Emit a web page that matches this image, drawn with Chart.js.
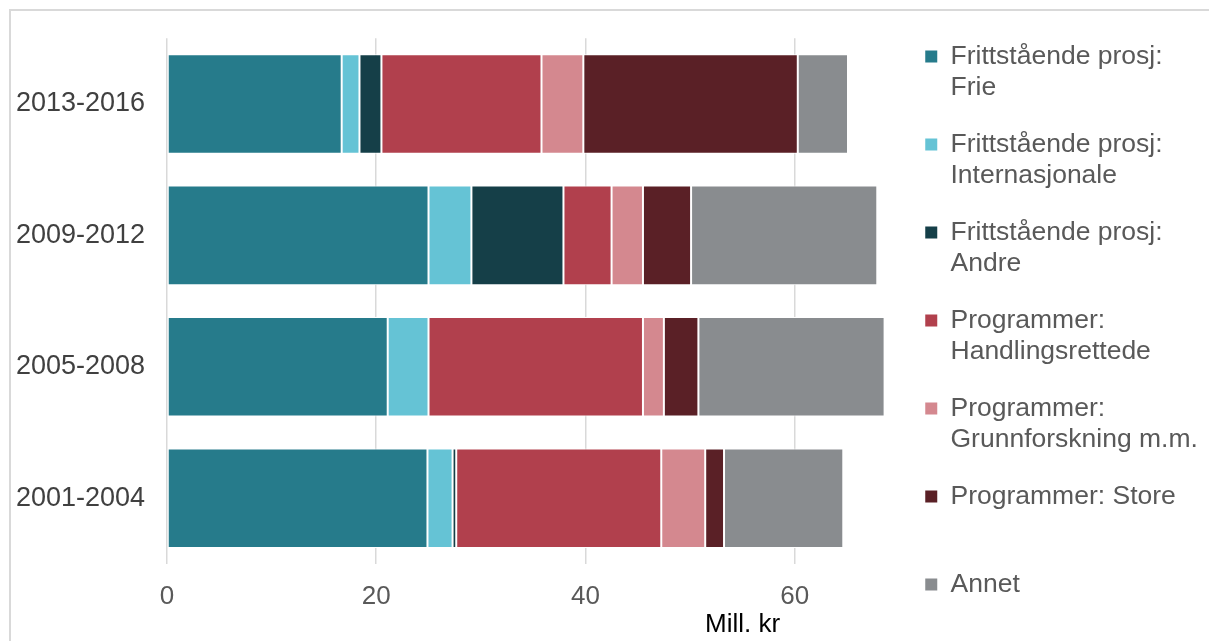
<!DOCTYPE html>
<html>
<head>
<meta charset="utf-8">
<script src="https://cdn.jsdelivr.net/npm/chart.js@4.4.1/dist/chart.umd.min.js"></script>
<style>
  html, body { margin: 0; padding: 0; background: #fff; overflow: hidden; }
  #frame {
    position: absolute; left: 9px; top: 9px; right: -10px; bottom: -10px;
    border-top: 2px solid #d9d9d9; border-left: 2px solid #d9d9d9;
  }
  #wrap { position: absolute; left: 0; top: 0; width: 1209px; height: 641px; }
</style>
</head>
<body>
<div id="frame"></div>
<div id="wrap"><canvas id="myChart" width="1209" height="641"></canvas></div>
<script>
const perioder = ['2013-2016', '2009-2012', '2005-2008', '2001-2004']

const serieNavn = [
    'Frittstående prosj:\nFrie',
    'Frittstående prosj:\nInternasjonale',
    'Frittstående prosj:\nAndre',
    'Programmer:\nHandlingsrettede',
    'Programmer:\nGrunnforskning m.m.',
    'Programmer: Store',
    'Annet'
]

const frie = [16.7, 25.0, 21.1, 24.9]
const internasjonale = [1.7, 4.1, 3.9, 2.4]
const andre = [2.1, 8.8, 0, 0.35]
const handlingsrettede = [15.3, 4.6, 20.5, 19.6]
const grunnforskning = [4.0, 3.0, 2.0, 4.2]
const store = [20.5, 4.6, 3.3, 1.8]
const annet = [4.8, 17.8, 17.8, 11.4]

const xTicks = [0, 20, 40, 60]
const xMax = 70
const aksetittel = 'Mill. kr'

const farger = ['#267b8b', '#65c3d5', '#153f48', '#b1404d', '#d4888f', '#5a2026', '#898c8f']
const serier = [frie, internasjonale, andre, handlingsrettede, grunnforskning, store, annet]

const fontFamily = '"Liberation Sans", Arial, sans-serif'

const ctx1 = document.getElementById('myChart').getContext('2d')

var datasets = serier.map(function (verdier, i) {
    return {
        label: serieNavn[i],
        data: verdier,
        backgroundColor: farger[i],
        borderColor: '#ffffff',
        borderWidth: 1,
        borderSkipped: false,
        barPercentage: 100 / 132,
        categoryPercentage: 1
    }
})

// draws the unit label under the x axis, a bit right of centre
const enhetPlugin = {
    id: 'enhet',
    afterDraw(chart) {
        const area = chart.chartArea
        const c = chart.ctx
        c.save()
        c.font = '26px ' + fontFamily
        c.fillStyle = '#000000'
        c.textAlign = 'center'
        c.textBaseline = 'middle'
        c.fillText(aksetittel, area.left + 0.786 * (area.right - area.left), 625)
        c.restore()
    }
}

new Chart(ctx1, {
    type: 'bar',
    data: {
        labels: perioder,
        datasets: datasets
    },
    options: {
        indexAxis: 'y',
        responsive: false,
        animation: false,
        layout: {
            padding: { left: 0, right: 10, top: 0, bottom: 0 }
        },
        scales: {
            x: {
                stacked: true,
                min: 0,
                max: xMax,
                position: 'bottom',
                afterBuildTicks: function (scale) {
                    scale.ticks = xTicks.map(v => ({ value: v }))
                },
                afterFit: function (scale) {
                    scale.height = 77
                },
                grid: { color: '#d9d9d9', lineWidth: 1.5, drawTicks: false },
                border: { display: false },
                ticks: {
                    color: '#595959',
                    padding: 17,
                    font: { size: 26, family: fontFamily }
                }
            },
            xTop: {
                axis: 'x',
                position: 'top',
                afterFit: function (scale) {
                    scale.height = 35
                },
                grid: { display: false, drawTicks: false },
                border: { display: false },
                ticks: { display: false }
            },
            y: {
                stacked: true,
                afterFit: function (scale) {
                    scale.width = 167
                },
                grid: { display: false, drawTicks: false },
                border: { display: false },
                ticks: {
                    color: '#404040',
                    padding: 22,
                    font: { size: 27, family: fontFamily }
                }
            }
        },
        plugins: {
            tooltip: { enabled: false },
            legend: {
                position: 'right',
                align: 'center',
                labels: {
                    boxWidth: 12,
                    boxHeight: 12,
                    padding: 26,
                    color: '#595959',
                    font: { size: 26.5, family: fontFamily, lineHeight: 31 / 26.5 },
                    generateLabels: function (chart) {
                        const items = Chart.defaults.plugins.legend.labels.generateLabels(chart)
                        return items.map(function (item, i) {
                            var linjer = String(item.text).split('\n')
                            if (linjer.length == 1 && i < items.length - 1) {
                                linjer.push('')
                            }
                            item.text = linjer.length == 1 ? linjer[0] : linjer
                            item.lineWidth = 0
                            item.strokeStyle = item.fillStyle
                            return item
                        })
                    }
                }
            }
        }
    },
    plugins: [enhetPlugin]
})
</script>
</body>
</html>
